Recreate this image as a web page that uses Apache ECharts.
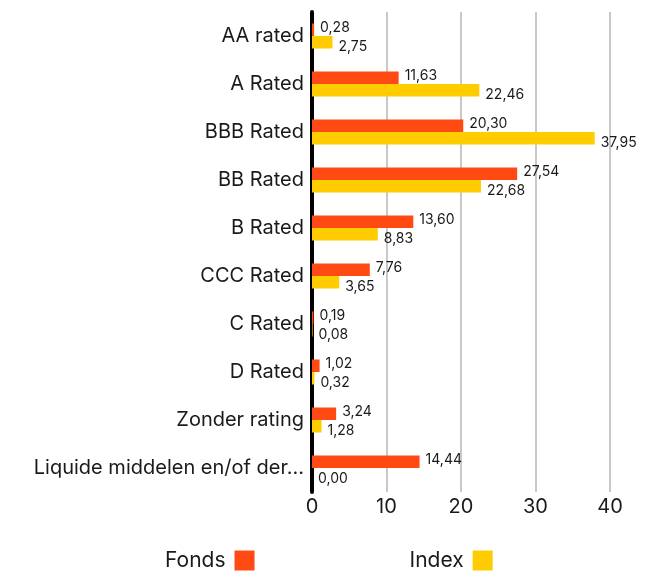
<!DOCTYPE html>
<html><head><meta charset="utf-8">
<script src="https://cdn.jsdelivr.net/npm/echarts@6/dist/echarts.min.js"></script>
<style>html,body{margin:0;padding:0;background:#fff}#c{width:652px;height:572px}</style>
</head><body><div id="c"></div>
<script>
const categories = ['AA rated','A Rated','BBB Rated','BB Rated','B Rated','CCC Rated','C Rated','D Rated','Zonder rating','Liquide middelen en/of derivaten'];
const fonds = [0.28, 11.63, 20.30, 27.54, 13.60, 7.76, 0.19, 1.02, 3.24, 14.44];
const index = [2.75, 22.46, 37.95, 22.68, 8.83, 3.65, 0.08, 0.32, 1.28, 0.00];
const xTicks = [0, 10, 20, 30, 40];

const FONT = 'Inter, "Noto Sans", sans-serif';
const fmt = p => p.value.toFixed(2).replace('.', ',');
const chart = echarts.init(document.getElementById('c'), null, {renderer:'canvas'});
chart.setOption({
  animation: false,
  textStyle: {fontFamily: FONT},
  grid: {left: 312, right: 42, top: 12, bottom: 80, containLabel: false},
  legend: {
    top: 550, left: 165, padding: 0, align: 'right', itemWidth: 20, itemHeight: 20, itemGap: 155,
    textStyle: {fontSize: 21, color: '#1a1a1a', fontFamily: FONT, padding: [2, 4, 0, 0]},
    icon: 'rect',
    data: ['Fonds', 'Index']
  },
  xAxis: {
    type: 'value', min: xTicks[0], max: xTicks[xTicks.length-1], interval: 10,
    axisLine: {show: false}, axisTick: {show: false},
    splitLine: {show: true, lineStyle: {color: '#c8c8c8', width: 2}},
    axisLabel: {fontSize: 20, color: '#1a1a1a', margin: 5, fontFamily: FONT}
  },
  yAxis: {
    type: 'category', data: categories, inverse: true,
    axisLine: {show: true, lineStyle: {color: '#000', width: 4}},
    axisTick: {show: false},
    axisLabel: {fontSize: 20, color: '#1a1a1a', margin: 8, width: 279, overflow: 'truncate', ellipsis: '...', fontFamily: FONT}
  },
  series: [
    {name: 'Fonds', type: 'bar', data: fonds, barWidth: 12.5, barGap: '0%',
     itemStyle: {color: '#FF4A14'},
     label: {show: true, position: 'right', distance: 6, offset: [0, -2], fontSize: 14, color: '#1a1a1a', formatter: fmt, fontFamily: FONT}},
    {name: 'Index', type: 'bar', data: index, barWidth: 12.5, barGap: '0%',
     itemStyle: {color: '#FFCC00'},
     label: {show: true, position: 'right', distance: 6, offset: [0, 5], fontSize: 14, color: '#1a1a1a', formatter: fmt, fontFamily: FONT}}
  ]
});
</script></body></html>
